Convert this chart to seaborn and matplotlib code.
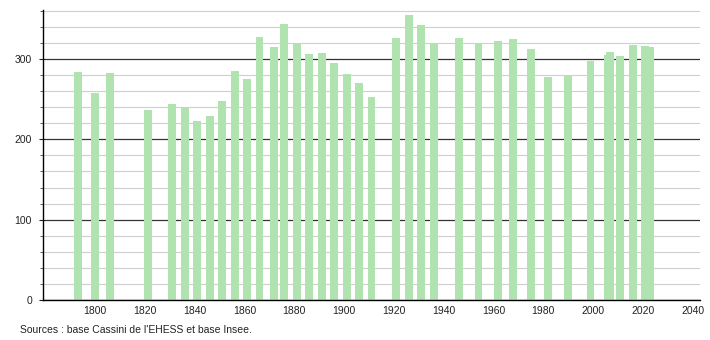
import matplotlib
matplotlib.use("Agg")
import matplotlib.pyplot as plt
from matplotlib.ticker import MultipleLocator
import seaborn as sns
import pandas as pd

years = [1793, 1800, 1806, 1821, 1831, 1836, 1841, 1846, 1851, 1856, 1861, 1866,
         1872, 1876, 1881, 1886, 1891, 1896, 1901, 1906, 1911, 1921, 1926, 1931,
         1936, 1946, 1954, 1962, 1968, 1975, 1982, 1990, 1999, 2006, 2007, 2011,
         2016, 2021, 2023]
population = [284, 258, 283, 236, 244, 239, 223, 229, 248, 285, 275, 327,
              315, 344, 319, 306, 308, 295, 281, 270, 253, 326, 355, 342,
              320, 326, 320, 322, 325, 312, 278, 279, 298, 305, 309, 304,
              318, 316, 315]
x_ticks = [1800, 1820, 1840, 1860, 1880, 1900, 1920, 1940, 1960, 1980, 2000, 2020, 2040]
y_ticks = [0, 100, 200, 300]
source_text = "Sources : base Cassini de l'EHESS et base Insee."

df = pd.DataFrame({"year": years, "pop": population})

sns.set_theme(style="white")
plt.rcParams["font.family"] = ["Liberation Sans", "DejaVu Sans"]

fig = plt.figure(figsize=(7.1, 3.4), dpi=100)
ax = fig.add_axes([43 / 710, 40 / 340, 657 / 710, 290 / 340])

sns.barplot(data=df, x="year", y="pop", native_scale=True, width=3.2,
            color="#b1e3b1", saturation=1, errorbar=None, linewidth=0, ax=ax)

ax.set_xlim(1779, 2043)
ax.set_ylim(0, 361)
ax.set_xticks(x_ticks)
ax.set_xticklabels([str(t) for t in x_ticks])
ax.set_yticks(y_ticks)
ax.yaxis.set_minor_locator(MultipleLocator(20))

ax.set_axisbelow(True)
ax.grid(False)
ax.yaxis.grid(True, which="minor", color="#cfcfcf", linewidth=0.8)
ax.yaxis.grid(True, which="major", color="#333333", linewidth=0.9)

for s in ["top", "right"]:
    ax.spines[s].set_visible(False)
for s in ["left", "bottom"]:
    ax.spines[s].set_visible(True)
    ax.spines[s].set_color("black")
    ax.spines[s].set_linewidth(1.0)

ax.tick_params(axis="x", length=0, pad=4, labelsize=7.5, colors="#222222")
ax.tick_params(axis="y", which="major", left=True, length=3, width=0.8, pad=5,
               labelsize=7.5, colors="#222222")
ax.tick_params(axis="y", which="minor", left=True, length=2, width=0.6, color="#444444")
ax.set_xlabel("")
ax.set_ylabel("")

fig.text(20 / 710, 1 - 333 / 340, source_text, fontsize=7.5, color="#222222",
         va="baseline", ha="left")

fig.savefig("out.png", dpi=100)
